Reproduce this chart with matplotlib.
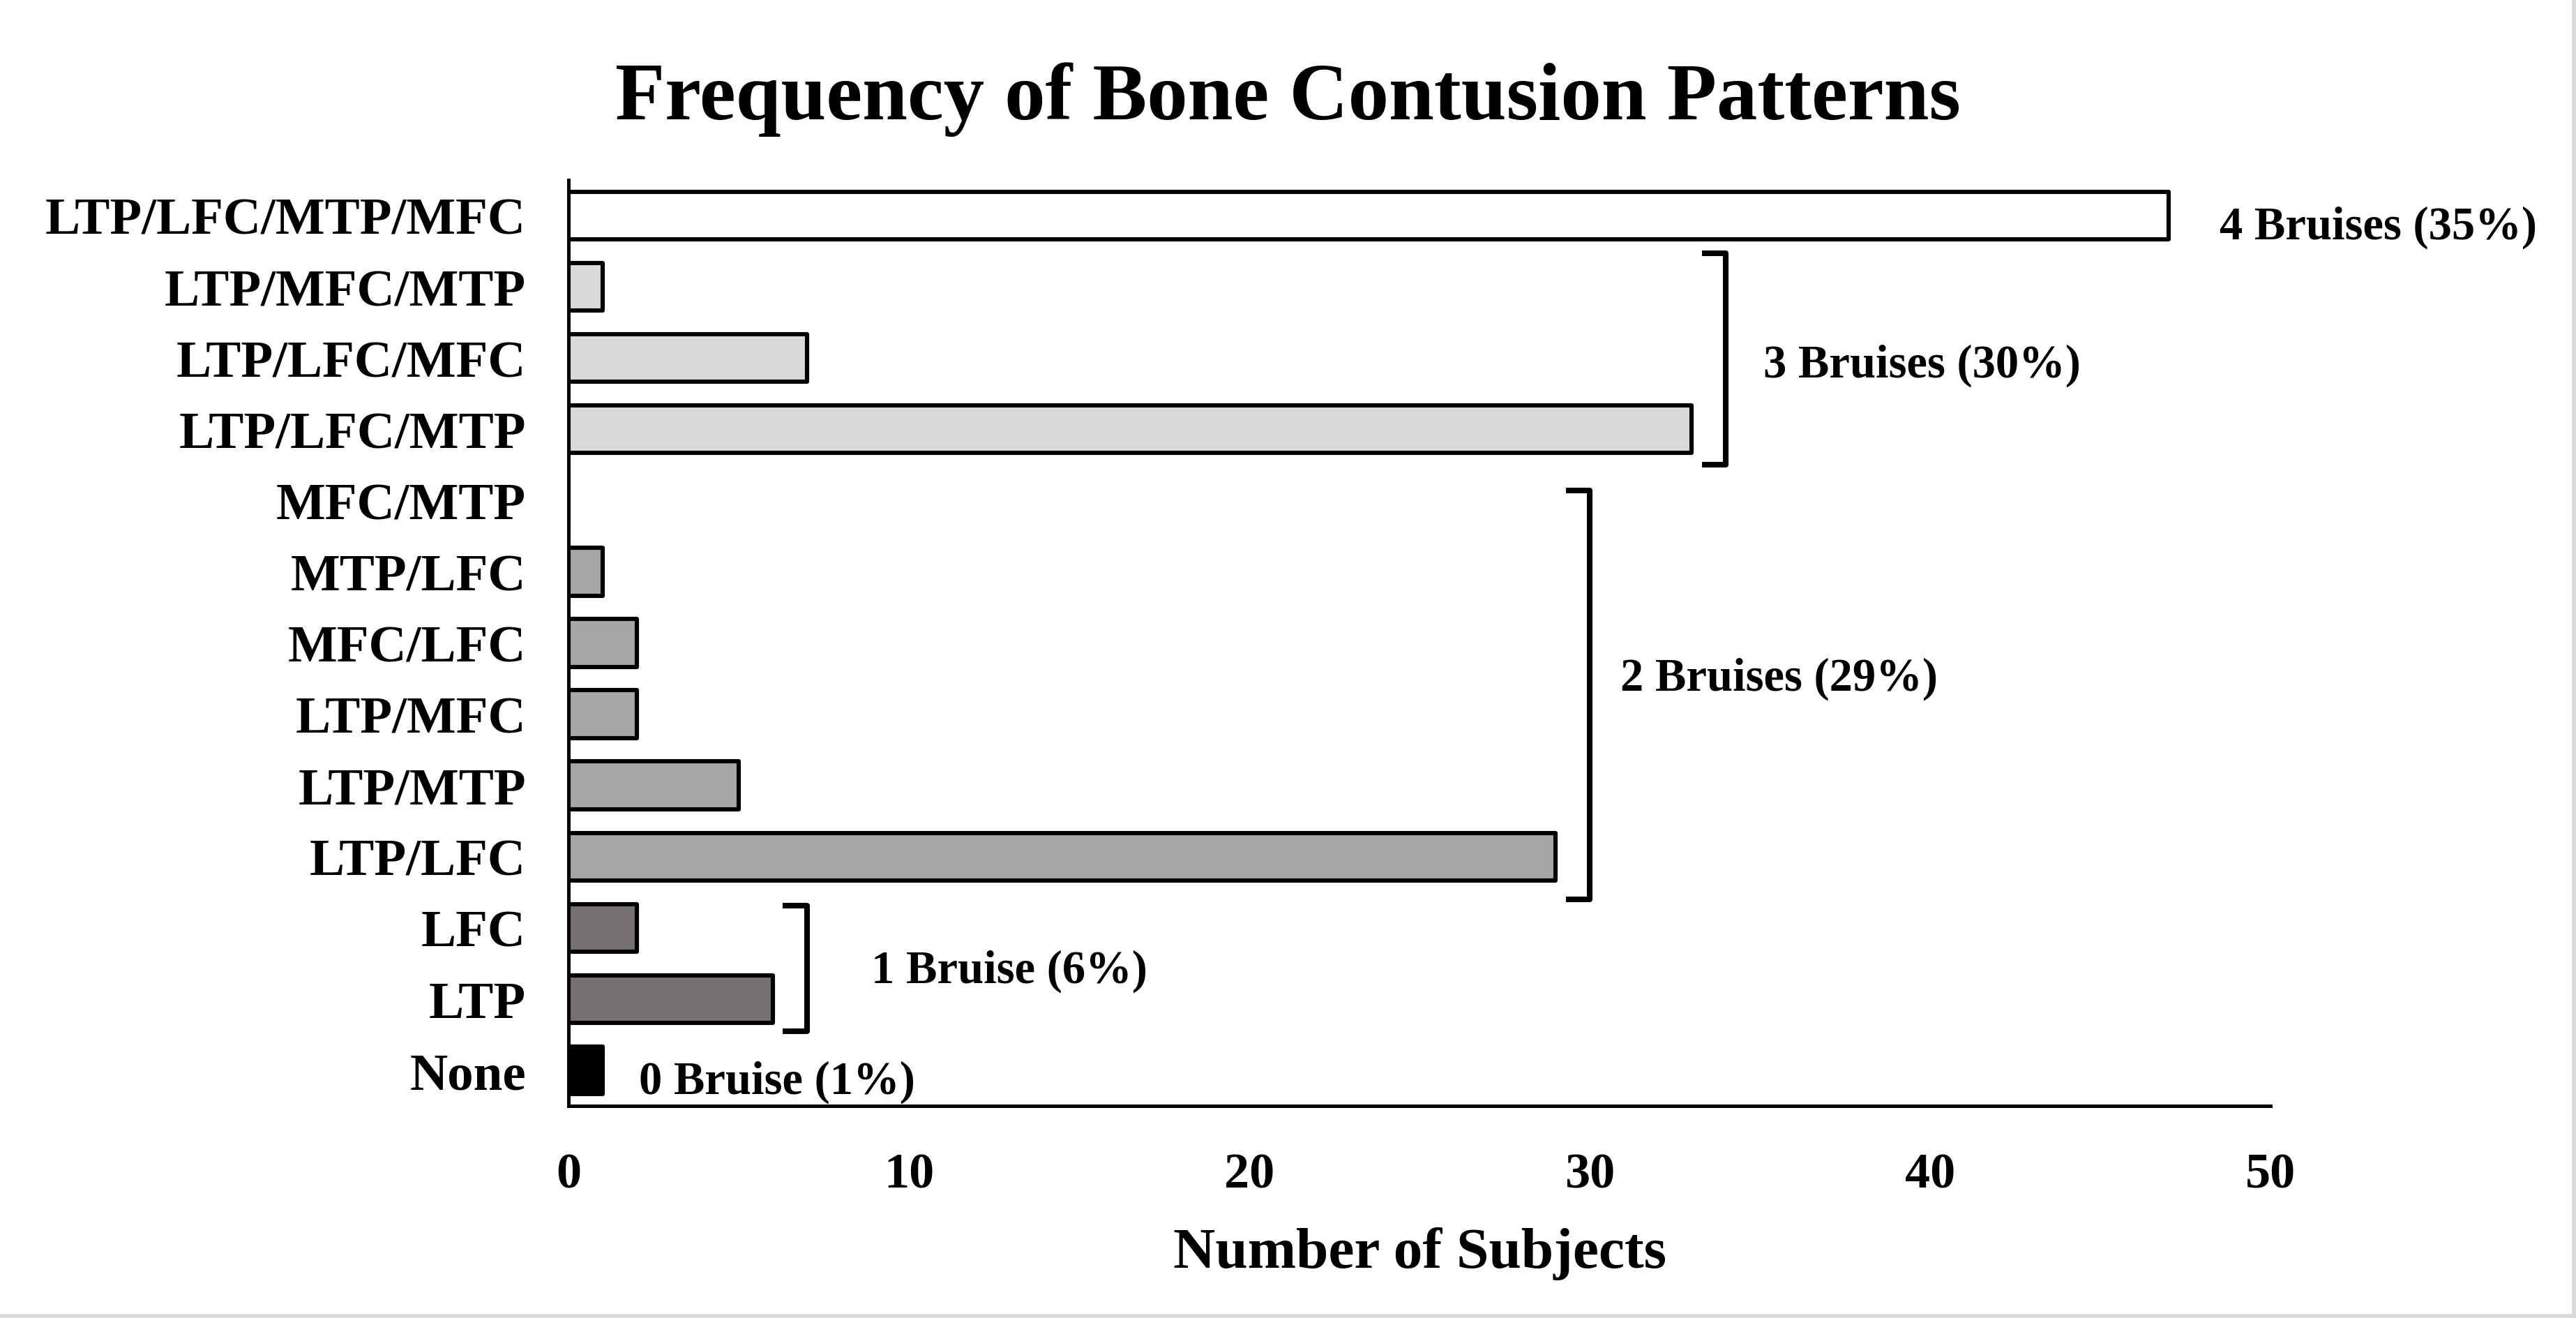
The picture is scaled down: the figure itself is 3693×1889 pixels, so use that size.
import numpy as np
import matplotlib.pyplot as plt
from matplotlib.lines import Line2D

# categories bottom to top
labels = ['None', 'LTP', 'LFC', 'LTP/LFC', 'LTP/MTP', 'LTP/MFC', 'MFC/LFC',
          'MTP/LFC', 'MFC/MTP', 'LTP/LFC/MTP', 'LTP/LFC/MFC', 'LTP/MFC/MTP',
          'LTP/LFC/MTP/MFC']
counts = [1, 6, 2, 29, 5, 2, 2, 1, 0, 33, 7, 1, 47]
n_bruises = [0, 1, 1, 2, 2, 2, 2, 2, 2, 3, 3, 3, 4]

group_colors = {0: '#000000', 1: '#767171', 2: '#a6a6a6', 3: '#d9d9d9', 4: '#ffffff'}
group_text = {0: '0 Bruise (1%)', 1: '1 Bruise (6%)', 2: '2 Bruises (29%)',
              3: '3 Bruises (30%)', 4: '4 Bruises (35%)'}

plt.rcParams['font.family'] = 'Liberation Serif'
plt.rcParams['font.weight'] = 'bold'

fig = plt.figure(figsize=(18.465, 9.45), dpi=200)
ax = fig.add_axes([0.2207, 0.1608, 0.8814 - 0.2207, 0.863 - 0.1608])

y = np.arange(len(labels))
ax.barh(y, counts, height=0.67, color=[group_colors[g] for g in n_bruises],
        edgecolor='black', linewidth=2.2, joinstyle='round', zorder=3)

ax.set_xlim(0, 50)
ax.set_ylim(-0.5, len(labels) - 0.5)
ax.set_xticks([0, 10, 20, 30, 40, 50])
ax.set_yticks(y)
ax.set_yticklabels(labels)
ax.tick_params(axis='both', length=0)
ax.tick_params(axis='y', labelsize=27, pad=22)
ax.tick_params(axis='x', labelsize=26, pad=24)
for s in ['top', 'right']:
    ax.spines[s].set_visible(False)
for s in ['left', 'bottom']:
    ax.spines[s].set_linewidth(1.8)

ax.set_xlabel('Number of Subjects', fontsize=30, fontweight='bold', labelpad=15)
fig.suptitle('Frequency of Bone Contusion Patterns', fontsize=42,
             fontweight='bold', y=0.953)

# brackets for groups with more than one pattern
cnt = np.array(counts)
grp = np.array(n_bruises)
spans = {1: (0.55, 2.31), 2: (2.4, 8.14), 3: (8.5, 11.47)}
text_dx = {1: 1.9, 2: 0.9, 3: 1.1}
for g, (y0, y1) in spans.items():
    xb = cnt[grp == g].max() + 1.0
    ax.plot([xb - 0.7, xb, xb, xb - 0.7], [y1, y1, y0, y0], color='black',
            lw=2.9, solid_joinstyle='round', solid_capstyle='butt', zorder=4)
    ty = y[grp == g].mean() - (0.0 if g == 2 else 0.1)
    ax.text(xb + text_dx[g], ty, group_text[g], fontsize=24,
            fontweight='bold', va='center', ha='left')

ax.text(48.5, 11.84, group_text[4], fontsize=24, fontweight='bold',
        va='center', ha='left', clip_on=False)
ax.text(2.07, -0.16, group_text[0], fontsize=24, fontweight='bold',
        va='center', ha='left')

# light frame on right and bottom edges
fig.add_artist(Line2D([0.9993, 0.9993], [0, 1], color='#d9d9d9', lw=2,
                      transform=fig.transFigure))
fig.add_artist(Line2D([0, 1], [0.0015, 0.0015], color='#d9d9d9', lw=2,
                      transform=fig.transFigure))

fig.savefig('out.png', dpi=200)
